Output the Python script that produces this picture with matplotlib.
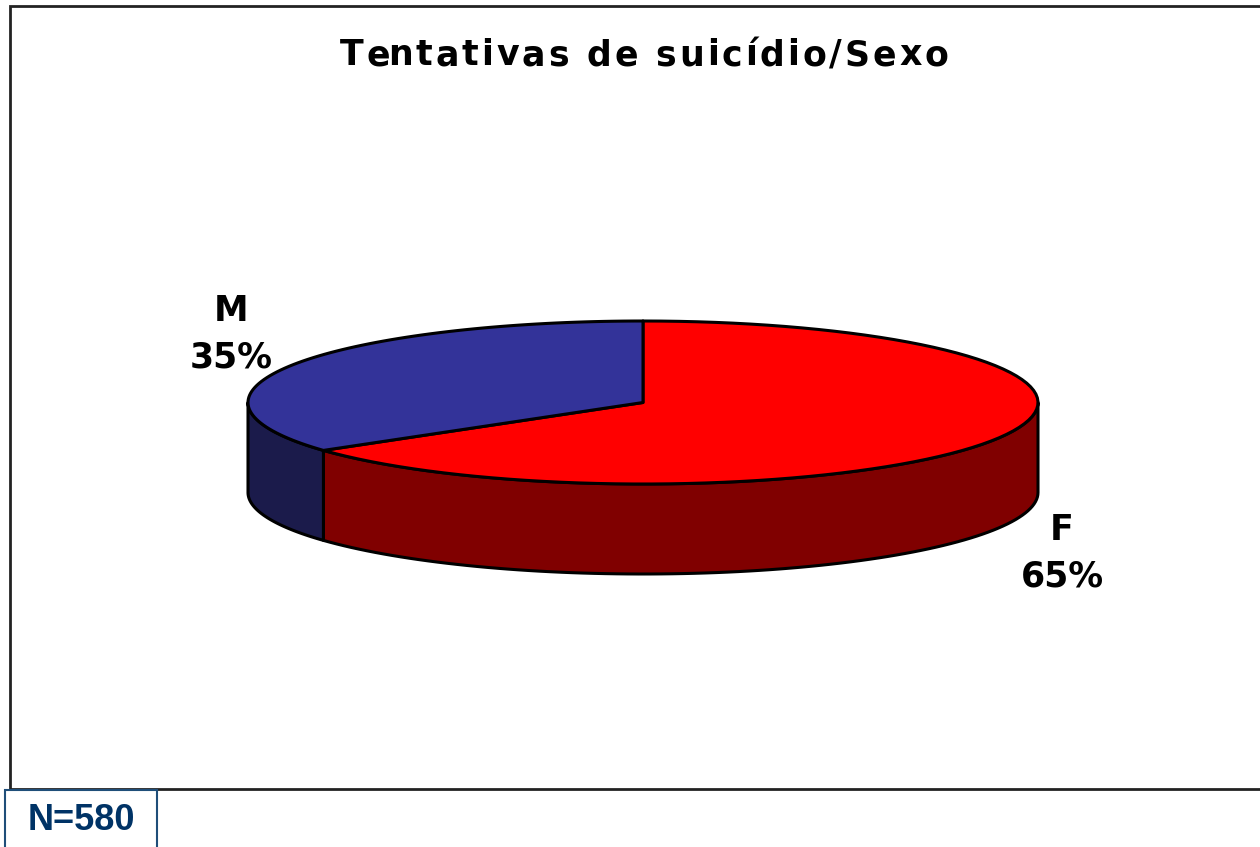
import numpy as np
import matplotlib
matplotlib.use('Agg')
import matplotlib.pyplot as plt
from matplotlib.patches import Polygon, Rectangle
from matplotlib.font_manager import FontProperties

# data
labels = ['F', 'M']
values = [65, 35]
top_colors = ['#ff0000', '#333399']
side_colors = ['#800000', '#1b1b4b']

title = 'Tentativas de suicídio/Sexo'
n_text = 'N=580'

# pie geometry (pixels)
cx, cy = 643, 402.5
rx, ry = 395, 81.5
depth = 90
label_xy = [(1062, 553), (231, 334)]


def ellipse_pts(t0, t1, dy=0.0, n=90):
    t = np.radians(np.linspace(t0, t1, n))
    return np.column_stack([cx + rx * np.cos(t), cy - ry * np.sin(t) + dy])


def spaced_text(ax, x, y, s, prop, gap, **kw):
    # draw a string centred on x with extra space between letters
    r = ax.figure.canvas.get_renderer()
    w = lambda t: r.get_text_width_height_descent(t, prop, ismath=False)[0]
    ref = w('x')
    offs = [w(s[:i] + 'x') - ref + i * gap for i in range(len(s))]
    total = offs[-1] + w(s[-1])
    x0 = x - total / 2
    for ch, o in zip(s, offs):
        ax.text(x0 + o, y, ch, ha='left', va='baseline', fontproperties=prop, **kw)


fig = plt.figure(figsize=(12.6, 8.47), dpi=100)
ax = fig.add_axes([0, 0, 1, 1])
ax.set_xlim(0, 1260)
ax.set_ylim(847, 0)
ax.axis('off')

# slice angles, clockwise from 12 o'clock
fracs = np.array(values, dtype=float) / sum(values)
ends = 90 - 360 * np.cumsum(fracs)
starts = np.concatenate([[90], ends[:-1]])

lw = 2.2

# side walls: only the front half (180..360 deg) shows
for s, e, col in zip(starts, ends, side_colors):
    lo, hi = e % 360, s % 360
    if hi <= lo:
        hi += 360
    a, b = max(lo, 180), min(hi, 360)
    if b <= a:
        a, b = max(lo - 360, 180), min(hi - 360, 360)
    if b <= a:
        continue
    top = ellipse_pts(a, b)
    bot = ellipse_pts(b, a, dy=depth)
    ax.add_patch(Polygon(np.vstack([top, bot]), closed=True, facecolor=col,
                         edgecolor='black', lw=lw, joinstyle='round', zorder=2))

# top faces
for s, e, col in zip(starts, ends, top_colors):
    arc = ellipse_pts(s, e)
    pts = np.vstack([[cx, cy], arc])
    ax.add_patch(Polygon(pts, closed=True, facecolor=col, edgecolor='black',
                         lw=lw, joinstyle='round', zorder=3))

# slice labels
for lab, v, (lx, ly) in zip(labels, values, label_xy):
    ax.text(lx, ly, f'{lab}\n{v}%', ha='center', va='center',
            fontsize=25, fontweight='bold', family='DejaVu Sans',
            linespacing=1.45, zorder=4)

title_prop = FontProperties(family='DejaVu Sans', weight='bold', size=25)
spaced_text(ax, 644, 65, title, title_prop, 2.9)

# chart frame
ax.plot([1260, 10, 10, 1260], [6, 6, 789, 789], color='#222222', lw=2,
        solid_joinstyle='miter', zorder=1)

# sample size box
ax.add_patch(Rectangle((5, 790), 152, 70, facecolor='white',
                       edgecolor='#1f4e79', lw=1.5, zorder=5))
n_prop = FontProperties(family='Liberation Sans', weight='bold',
                        stretch='normal', size=26)
ax.text(81, 821, n_text, ha='center', va='center', fontproperties=n_prop,
        color='#003366', zorder=6)

fig.savefig('out.png', dpi=100)
